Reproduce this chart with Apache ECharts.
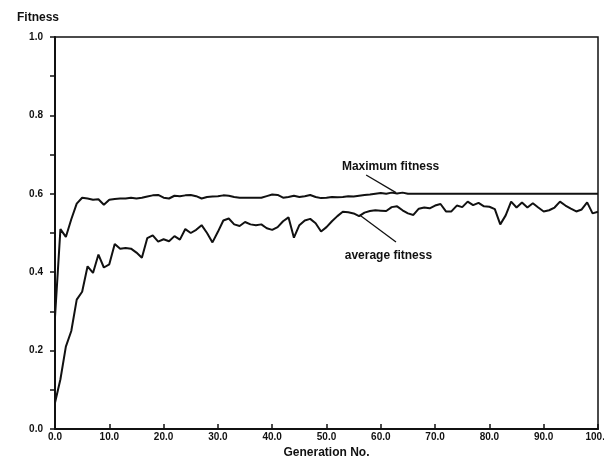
<!DOCTYPE html>
<html><head><meta charset="utf-8">
<script src="https://cdn.jsdelivr.net/npm/echarts@6/dist/echarts.min.js"></script>
<style>html,body{margin:0;padding:0;background:#fff}#c{width:604px;height:460px}</style>
</head><body><div id="c"></div>
<script>
var generations = [];
for (var g = 0; g <= 100; g++) generations.push(g);
var maxFitness = [0.285,0.51,0.49,0.535,0.575,0.59,0.588,0.585,0.586,0.572,0.585,0.587,0.588,0.588,0.59,0.588,0.59,0.593,0.596,0.597,0.59,0.588,0.595,0.594,0.596,0.597,0.594,0.588,0.592,0.593,0.594,0.596,0.595,0.592,0.59,0.59,0.59,0.59,0.59,0.594,0.598,0.597,0.59,0.592,0.595,0.592,0.594,0.597,0.592,0.589,0.59,0.592,0.591,0.592,0.594,0.593,0.595,0.597,0.598,0.6,0.602,0.6,0.603,0.601,0.603,0.6,0.6,0.6,0.6,0.6,0.6,0.6,0.6,0.6,0.6,0.6,0.6,0.6,0.6,0.6,0.6,0.6,0.6,0.6,0.6,0.6,0.6,0.6,0.6,0.6,0.6,0.6,0.6,0.6,0.6,0.6,0.6,0.6,0.6,0.6,0.6];
var avgFitness = [0.067,0.127,0.21,0.25,0.33,0.35,0.415,0.398,0.445,0.412,0.42,0.472,0.46,0.462,0.46,0.45,0.437,0.487,0.494,0.478,0.484,0.479,0.492,0.483,0.51,0.5,0.508,0.52,0.5,0.476,0.503,0.532,0.537,0.522,0.518,0.528,0.522,0.52,0.522,0.512,0.508,0.515,0.53,0.54,0.488,0.52,0.532,0.536,0.525,0.504,0.515,0.53,0.543,0.554,0.553,0.55,0.543,0.552,0.556,0.558,0.557,0.556,0.566,0.568,0.558,0.55,0.546,0.562,0.565,0.563,0.57,0.574,0.555,0.555,0.57,0.566,0.58,0.571,0.577,0.568,0.567,0.561,0.522,0.545,0.58,0.565,0.578,0.565,0.576,0.565,0.555,0.558,0.565,0.58,0.57,0.562,0.555,0.56,0.578,0.55,0.554];
var yTicks = [0, 0.2, 0.4, 0.6, 0.8, 1.0];
var maxLabel = {text: 'Maximum fitness', at: [61.8, 0.67], leader: [[57.3, 0.648], [62.8, 0.603]]};
var avgLabel = {text: 'average fitness', at: [61.4, 0.442], leader: [[56.1, 0.546], [62.8, 0.477]]};

var FONT = '"Liberation Sans", Arial, sans-serif';
var ink = '#111';
function pairs(ys){ return generations.map(function(x,i){ return [x, ys[i]]; }); }
function annot(a){
  return {
    markLine: {silent:true, symbol:['none','none'], lineStyle:{color:ink,width:1.3,type:'solid'}, label:{show:false},
      data:[[{coord:a.leader[0]},{coord:a.leader[1]}]]},
    markPoint: {silent:true, symbol:'circle', symbolSize:0,
      label:{show:true, formatter:a.text, color:ink, fontFamily:FONT, fontWeight:'bold', fontSize:12, position:'inside'},
      data:[{coord:a.at}]}
  };
}
var s1 = Object.assign({type:'line', data:pairs(maxFitness), showSymbol:false, symbol:'none', lineStyle:{color:ink,width:2}, animation:false}, annot(maxLabel));
var s2 = Object.assign({type:'line', data:pairs(avgFitness), showSymbol:false, symbol:'none', lineStyle:{color:ink,width:2}, animation:false}, annot(avgLabel));

var chart = echarts.init(document.getElementById('c'));
chart.setOption({
  animation:false,
  backgroundColor:'#fff',
  title:{text:'Fitness', left:12, top:7, textStyle:{fontFamily:FONT, fontWeight:'bold', fontSize:12, color:ink}},
  grid:{left:55, right:6, top:37, bottom:31, show:true, borderColor:ink, borderWidth:1.5, containLabel:false, outerBoundsMode:'none'},
  xAxis:{type:'value', min:0, max:100, interval:10,
    name:'Generation No.', nameLocation:'middle', nameGap:17,
    nameTextStyle:{fontFamily:FONT, fontWeight:'bold', fontSize:12, color:ink},
    axisLine:{lineStyle:{color:ink,width:2}},
    axisTick:{inside:true, length:5, lineStyle:{color:ink,width:1.5}},
    axisLabel:{margin:3, fontFamily:FONT, fontWeight:'bold', fontSize:10, color:ink, hideOverlap:false, formatter:function(v){return v.toFixed(1);}},
    splitLine:{show:false}},
  yAxis:{type:'value', min:0, max:1, interval:0.2,
    axisLine:{show:true, lineStyle:{color:ink,width:2}},
    axisTick:{show:true, length:5, lineStyle:{color:ink,width:1.5}},
    minorTick:{show:true, splitNumber:2, length:5, lineStyle:{color:ink,width:1.5}},
    axisLabel:{margin:12, fontFamily:FONT, fontWeight:'bold', fontSize:10, color:ink,
      formatter:function(v){ for (var i=0;i<yTicks.length;i++){ if (Math.abs(v-yTicks[i])<1e-6) return yTicks[i].toFixed(1);} return ''; }},
    splitLine:{show:false}},
  series:[s1, s2]
});
</script></body></html>
